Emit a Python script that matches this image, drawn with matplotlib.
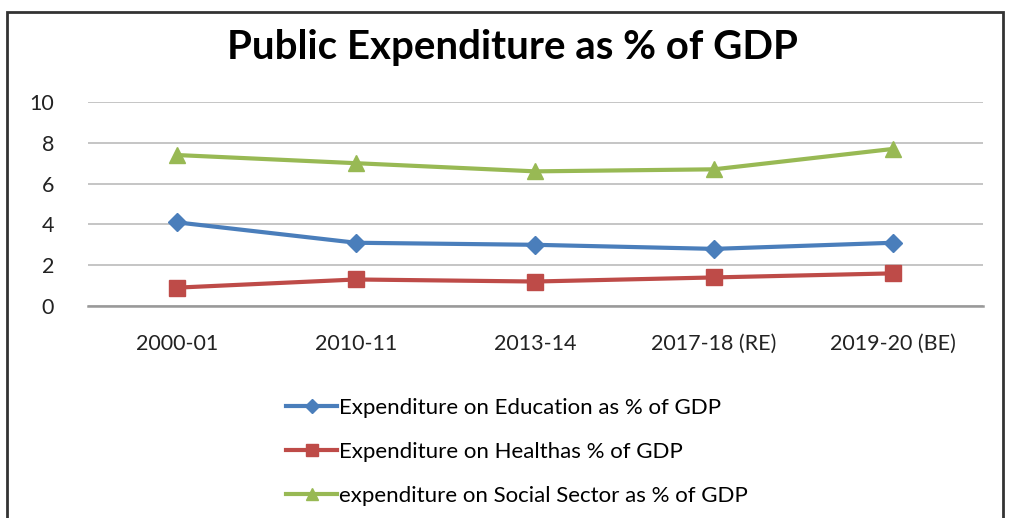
import matplotlib.pyplot as plt
from matplotlib.patches import Rectangle

years = ['2000-01', '2010-11', '2013-14', '2017-18 (RE)', '2019-20 (BE)']
education = [4.1, 3.1, 3.0, 2.8, 3.1]
health = [0.9, 1.3, 1.2, 1.4, 1.6]
social = [7.4, 7.0, 6.6, 6.7, 7.7]
labels = ['Expenditure on Education as % of GDP',
          'Expenditure on Healthas % of GDP',
          'expenditure on Social Sector as % of GDP']

plt.rcParams['font.family'] = ['Lato', 'DejaVu Sans']

W, H = 1010, 518
fig = plt.figure(figsize=(W / 100, H / 100), dpi=100)
ax = fig.add_axes([87.5 / W, 1 - 306 / H, 895 / W, 204 / H])

x = list(range(len(years)))
l1, = ax.plot(x, education, color='#4a7ebb', lw=3, marker='D', ms=9, label=labels[0])
l2, = ax.plot(x, health, color='#be4b48', lw=3, marker='s', ms=12, label=labels[1])
l3, = ax.plot(x, social, color='#98b954', lw=3, marker='^', ms=12, label=labels[2])

ax.set_xlim(-0.5, len(years) - 0.5)
ax.set_ylim(0, 10)
ax.set_yticks([0, 2, 4, 6, 8, 10])
ax.set_xticks(x)
ax.set_xticklabels(years, fontsize=15.5, color='#222222')
ax.tick_params(axis='y', labelsize=15.5, colors='#222222', length=0, pad=24)
ax.tick_params(axis='x', length=0, pad=20)
ax.grid(axis='y', color='#bbbbbb', lw=1.2)
ax.set_axisbelow(True)
for s in ['left', 'right', 'top']:
    ax.spines[s].set_visible(False)
ax.spines['bottom'].set_color('#999999')
ax.spines['bottom'].set_linewidth(1.8)

fig.text(512 / W, 1 - 47 / H, 'Public Expenditure as % of GDP', ha='center', va='center',
         fontsize=29, fontweight='bold')

fig.legend(handles=[l1, l2, l3], loc='center left', bbox_to_anchor=(266 / W, 1 - 452 / H),
           frameon=False, fontsize=16, handlelength=2.3, labelspacing=1.08,
           handletextpad=0.1, markerscale=0.75)

fig.patches.append(Rectangle((7 / W, -0.1), (1003 - 7) / W, 1.1 - 12 / H,
                             transform=fig.transFigure, fill=False,
                             edgecolor='#333333', lw=2))

fig.savefig('out.png', dpi=100)
